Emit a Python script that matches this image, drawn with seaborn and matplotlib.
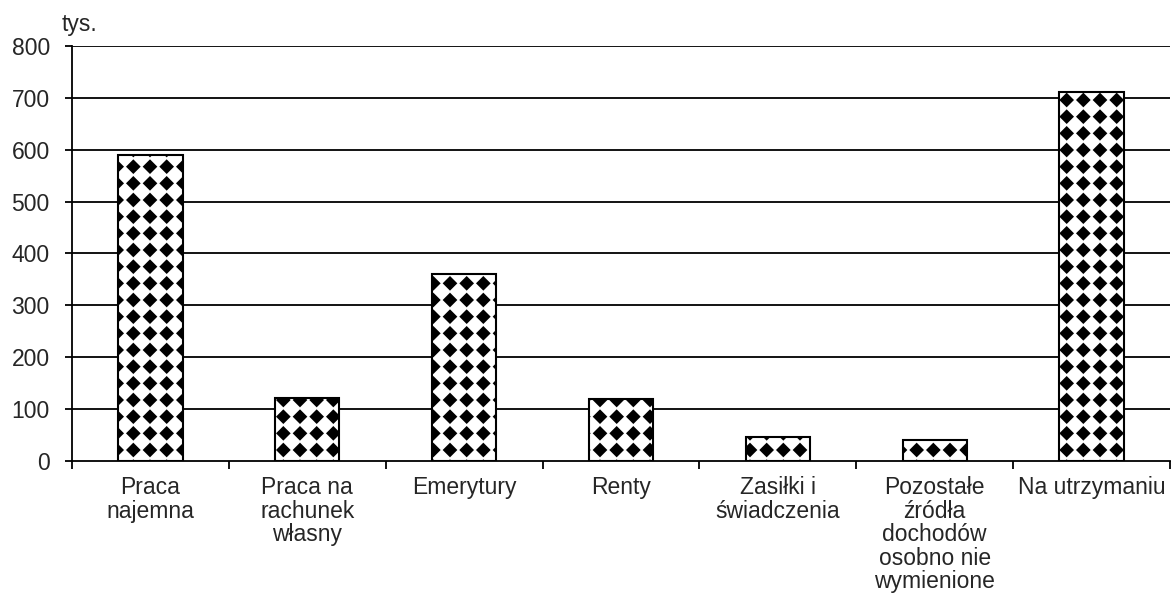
import numpy as np
import pandas as pd
import matplotlib
matplotlib.use('Agg')
import matplotlib.pyplot as plt
import matplotlib.hatch as mhatch
from matplotlib.path import Path
from matplotlib.ticker import FixedLocator
import seaborn as sns

categories = ['Praca\nnajemna', 'Praca na\nrachunek\nwłasny', 'Emerytury', 'Renty',
              'Zasiłki i\nświadczenia', 'Pozostałe\nźródła\ndochodów\nosobno nie\nwymienione',
              'Na utrzymaniu']
values = [589, 121, 360, 119, 46, 40, 712]
y_ticks = [0, 100, 200, 300, 400, 500, 600, 700, 800]


class DiamondDots(mhatch.HatchPatternBase):
    '''Filled diamonds on a square grid, used in place of the "." hatch.'''

    def __init__(self, hatch, density):
        self.num_rows = hatch.count('.') * density
        self.num_vertices = (self.num_rows + 1) ** 2 * 5 if self.num_rows else 0

    def set_vertices_and_codes(self, vertices, codes):
        step = 1.0 / self.num_rows
        r = 0.37 * step
        shape = np.array([[0, -r], [r, 0], [0, r], [-r, 0], [0, -r]])
        shape_codes = [Path.MOVETO, Path.LINETO, Path.LINETO, Path.LINETO, Path.CLOSEPOLY]
        pos = np.linspace(0, 1, self.num_rows + 1)
        parts = [shape + [x, y] for y in pos for x in pos]
        vertices[:] = np.concatenate(parts)
        codes[:] = np.tile(shape_codes, len(parts))


mhatch._hatch_types = [DiamondDots if t is mhatch.SmallFilledCircles else t
                       for t in mhatch._hatch_types]

sns.set_style('white')
plt.rcParams['font.family'] = ['Liberation Sans', 'DejaVu Sans']
plt.rcParams['hatch.color'] = 'black'
plt.rcParams['hatch.linewidth'] = 1.2

df = pd.DataFrame({'source': categories, 'value': values})

fig = plt.figure(figsize=(11.73, 6.12), dpi=100)
ax = fig.add_axes([72 / 1173, 1 - 461 / 612, 1098 / 1173, 415 / 612])

# horizontal gridlines
for t in y_ticks[1:]:
    ax.axhline(t, color='black', lw=1.3, zorder=0)

sns.barplot(x='source', y='value', data=df, color='white', edgecolor='black',
            linewidth=1.5, hatch='.', width=0.41, ax=ax, zorder=2)

ax.set_ylim(0, 800)
ax.set_xlim(-0.5, len(categories) - 0.5)
ax.set_yticks(y_ticks)
ax.set(xlabel='', ylabel='')

for side in ['top', 'right']:
    ax.spines[side].set_visible(False)
for side in ['left', 'bottom']:
    ax.spines[side].set_color('black')
    ax.spines[side].set_linewidth(1.3)

ax.tick_params(axis='y', which='major', left=True, length=5, width=1.3, color='black',
               pad=11, labelsize=16.5)
ax.tick_params(axis='x', which='major', bottom=False, length=0, pad=11, labelsize=16.5)
ax.xaxis.set_minor_locator(FixedLocator(np.arange(-0.5, len(categories), 1.0)))
ax.tick_params(axis='x', which='minor', bottom=True, length=6, width=1.3, color='black')

for lbl in ax.get_xticklabels():
    lbl.set_linespacing(1.03)

fig.text(62 / 1173, 1 - 24 / 612, 'tys.', fontsize=16.5, va='center', ha='left')

fig.savefig('out.png', dpi=100)
